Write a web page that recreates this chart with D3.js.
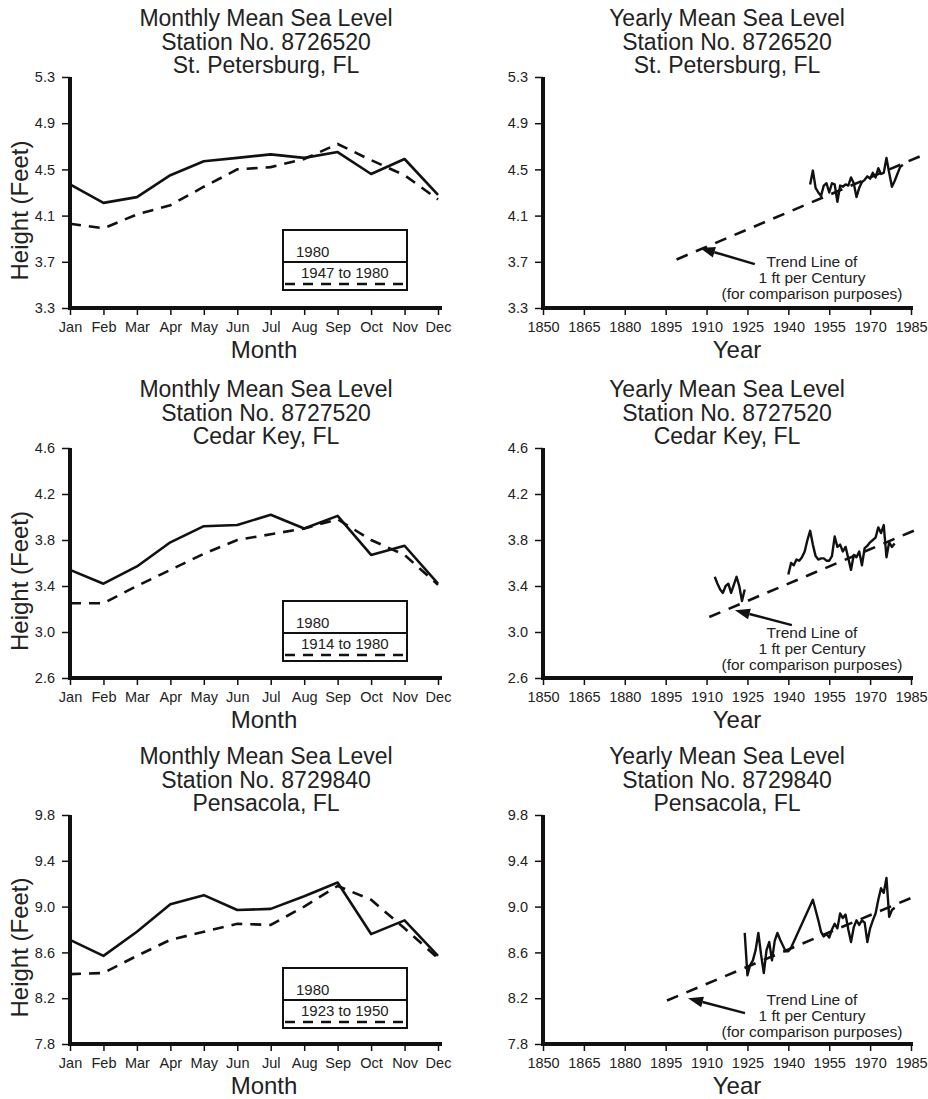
<!DOCTYPE html>
<html>
<head>
<meta charset="utf-8">
<script src="https://cdn.jsdelivr.net/npm/d3@7"></script>
<style>
  html, body { margin: 0; padding: 0; background: #fff; }
  svg { display: block; font-family: "Liberation Sans", Arial, Helvetica, sans-serif; }
</style>
</head>
<body>
<svg id="chart" width="928" height="1099"></svg>
<script>
// ---- Data (heights in feet) ----
const months = ["Jan", "Feb", "Mar", "Apr", "May", "Jun", "Jul", "Aug", "Sep", "Oct", "Nov", "Dec"];
const yearTicks = [1850, 1865, 1880, 1895, 1910, 1925, 1940, 1955, 1970, 1985];

// St. Petersburg, FL — Station No. 8726520
const stPete1980 = [4.37, 4.21, 4.26, 4.45, 4.57, 4.60, 4.63, 4.60, 4.65, 4.46, 4.59, 4.28];
const stPeteMean = [4.03, 3.99, 4.11, 4.19, 4.35, 4.50, 4.52, 4.59, 4.72, 4.58, 4.45, 4.24];
const stPeteTicks = [3.3, 3.7, 4.1, 4.5, 4.9, 5.3];
const stPeteYearlyStart = 1948;
const stPeteYearly = [4.37, 4.49, 4.34, 4.30, 4.27, 4.36, 4.38, 4.30, 4.38, 4.37,
                      4.22, 4.36, 4.35, 4.37, 4.36, 4.43, 4.38, 4.26, 4.34, 4.39,
                      4.41, 4.44, 4.42, 4.47, 4.43, 4.51, 4.46, 4.47, 4.60, 4.47,
                      4.35, 4.40, 4.46, 4.52, 4.54];
const stPeteTrendYears = [1899, 1991];
const stPeteTrendLevel = 3.72;
const stPeteArrow = [[1927.7, 3.68], [1907.6, 3.82]];

// Cedar Key, FL — Station No. 8727520
const cedar1980 = [3.54, 3.42, 3.57, 3.78, 3.92, 3.93, 4.02, 3.90, 4.01, 3.67, 3.75, 3.42];
const cedarMean = [3.25, 3.25, 3.40, 3.54, 3.68, 3.80, 3.85, 3.90, 3.98, 3.80, 3.67, 3.41];
const cedarTicks = [2.6, 3.0, 3.4, 3.8, 4.2, 4.6];
const cedarEarlyStart = 1913;
const cedarEarly = [3.48, 3.42, 3.37, 3.34, 3.40, 3.42, 3.34, 3.41, 3.48, 3.40, 3.27, 3.37];
const cedarLateStart = 1940;
const cedarLate = [3.50, 3.60, 3.58, 3.63, 3.62, 3.65, 3.70, 3.80, 3.88, 3.76,
                   3.66, 3.63, 3.64, 3.64, 3.62, 3.62, 3.66, 3.83, 3.74, 3.76,
                   3.70, 3.74, 3.64, 3.54, 3.67, 3.65, 3.70, 3.58, 3.73, 3.75,
                   3.78, 3.80, 3.82, 3.91, 3.86, 3.93, 3.65, 3.78, 3.74, 3.77];
const cedarTrendYears = [1911, 1988];
const cedarTrendLevel = 3.13;
const cedarArrow = [[1941.3, 3.06], [1920.4, 3.19]];

// Pensacola, FL — Station No. 8729840
const pens1980 = [8.71, 8.57, 8.78, 9.02, 9.10, 8.97, 8.98, 9.09, 9.21, 8.76, 8.88, 8.57];
const pensMean = [8.41, 8.42, 8.57, 8.71, 8.78, 8.85, 8.84, 9.00, 9.18, 9.06, 8.81, 8.55];
const pensTicks = [7.8, 8.2, 8.6, 9.0, 9.4, 9.8];
const pensEarlyStart = 1924;
const pensEarly = [8.77, 8.40, 8.49, 8.53, 8.62, 8.77, 8.58, 8.42, 8.62, 8.69,
                   8.53, 8.70, 8.77, 8.71, 8.66, 8.61, 8.61, 8.64];
const pensLateStart = 1949;
const pensLate = [9.06, 8.97, 8.88, 8.78, 8.74, 8.76, 8.73, 8.80, 8.85, 8.81,
                  8.94, 8.90, 8.93, 8.80, 8.69, 8.82, 8.88, 8.84, 8.88, 8.86,
                  8.69, 8.81, 8.88, 8.94, 9.06, 9.16, 9.12, 9.25, 8.91, 8.97, 8.99];
const pensTrendYears = [1895.5, 1986];
const pensTrendLevel = 8.18;
const pensArrow = [[1924.1, 8.07], [1903.2, 8.20]];

// "1 ft per Century" expressed per year
const trendRate = 1 / 100;

// ---- Build series tables ----
const toPoints = (start, values) => values.map((v, i) => [start + i, v]);

const rows = [
  { station: "8726520", place: "St. Petersburg, FL", top: 77, bottom: 308,
    domain: [3.3, 5.3], ticks: stPeteTicks, recent: stPete1980, mean: stPeteMean,
    meanLabel: "1947 to 1980",
    yearly: [toPoints(stPeteYearlyStart, stPeteYearly)],
    trendYears: stPeteTrendYears, trendLevel: stPeteTrendLevel, arrow: stPeteArrow },
  { station: "8727520", place: "Cedar Key, FL", top: 448, bottom: 678,
    domain: [2.6, 4.6], ticks: cedarTicks, recent: cedar1980, mean: cedarMean,
    meanLabel: "1914 to 1980",
    yearly: [toPoints(cedarEarlyStart, cedarEarly), toPoints(cedarLateStart, cedarLate)],
    trendYears: cedarTrendYears, trendLevel: cedarTrendLevel, arrow: cedarArrow },
  { station: "8729840", place: "Pensacola, FL", top: 815, bottom: 1044,
    domain: [7.8, 9.8], ticks: pensTicks, recent: pens1980, mean: pensMean,
    meanLabel: "1923 to 1950",
    yearly: [toPoints(pensEarlyStart, pensEarly).concat(toPoints(pensLateStart, pensLate))],
    trendYears: pensTrendYears, trendLevel: pensTrendLevel, arrow: pensArrow }
];

// ---- Drawing ----
const svg = d3.select("#chart");
svg.append("rect").attr("width", 928).attr("height", 1099).attr("fill", "#fff");

const INK = "#111";
const TEXT = "#222";
const fmt = d3.format(".1f");
const leftRange = [70, 438];
const rightRange = [543, 911];

function titleBlock(g, cx, top, first, station, place) {
  const t = g.append("text").attr("text-anchor", "middle")
    .attr("font-size", 23).attr("fill", TEXT);
  [first, "Station No. " + station, place].forEach((s, i) => {
    t.append("tspan").attr("x", cx).attr("y", top - 51 + i * 23.5).text(s);
  });
}

function yAxis(g, y, ticks, x0) {
  const ax = d3.axisLeft(y).tickValues(ticks).tickFormat(fmt).tickSize(8).tickPadding(7);
  const a = g.append("g").attr("transform", `translate(${x0},0)`).call(ax);
  a.select(".domain").remove();
  a.selectAll(".tick line").attr("stroke", INK).attr("stroke-width", 1.5);
  a.selectAll(".tick text").attr("font-size", 14.5).attr("fill", TEXT)
    .attr("font-family", "'Liberation Sans', Arial, sans-serif");
}

function xAxis(g, axis, y0) {
  const a = g.append("g").attr("transform", `translate(0,${y0})`).call(axis);
  a.select(".domain").remove();
  a.selectAll(".tick line").attr("stroke", INK).attr("stroke-width", 1.5);
  a.selectAll(".tick text").attr("font-size", 14.5).attr("fill", TEXT)
    .attr("font-family", "'Liberation Sans', Arial, sans-serif");
}

function frame(g, xr, top, bottom) {
  g.append("line").attr("x1", xr[0]).attr("x2", xr[0]).attr("y1", top).attr("y2", bottom + 2)
    .attr("stroke", INK).attr("stroke-width", 4);
  g.append("line").attr("x1", xr[0] - 2).attr("x2", xr[1] + 2).attr("y1", bottom).attr("y2", bottom)
    .attr("stroke", INK).attr("stroke-width", 4);
}

rows.forEach(r => {
  // ---------- Monthly panel ----------
  const gl = svg.append("g");
  const xm = d3.scalePoint().domain(months).range(leftRange);
  const y = d3.scaleLinear().domain(r.domain).range([r.bottom, r.top]);

  titleBlock(gl, 266, r.top, "Monthly Mean Sea Level", r.station, r.place);
  yAxis(gl, y, r.ticks, leftRange[0]);
  xAxis(gl, d3.axisBottom(xm).tickSize(7).tickPadding(7), r.bottom);
  frame(gl, [leftRange[0], leftRange[1] + 2], r.top, r.bottom);

  const lineM = d3.line().x((d, i) => xm(months[i])).y(d => y(d));
  gl.append("path").attr("d", lineM(r.mean)).attr("fill", "none")
    .attr("stroke", INK).attr("stroke-width", 2.6).attr("stroke-dasharray", "11,8");
  gl.append("path").attr("d", lineM(r.recent)).attr("fill", "none")
    .attr("stroke", INK).attr("stroke-width", 2.6).attr("stroke-linejoin", "round");

  // legend
  const lx = 283, lw = 124, ly = r.top + 153, lh = 60;
  const lg = gl.append("g");
  lg.append("rect").attr("x", lx).attr("y", ly).attr("width", lw).attr("height", lh)
    .attr("fill", "#fff").attr("stroke", INK).attr("stroke-width", 2);
  lg.append("line").attr("x1", lx).attr("x2", lx + lw).attr("y1", ly + 32).attr("y2", ly + 32)
    .attr("stroke", INK).attr("stroke-width", 2.2);
  lg.append("line").attr("x1", lx + 2).attr("x2", lx + lw - 2).attr("y1", ly + 54).attr("y2", ly + 54)
    .attr("stroke", INK).attr("stroke-width", 2.6).attr("stroke-dasharray", "10,8");
  lg.append("text").attr("x", lx + 13).attr("y", ly + 27).attr("font-size", 15)
    .attr("fill", TEXT).text("1980");
  lg.append("text").attr("x", lx + 18).attr("y", ly + 48).attr("font-size", 15)
    .attr("fill", TEXT).text(r.meanLabel);

  gl.append("text").attr("x", 264).attr("y", r.bottom + 50).attr("text-anchor", "middle")
    .attr("font-size", 24).attr("fill", TEXT).text("Month");
  gl.append("text")
    .attr("transform", `translate(28,${(r.top + r.bottom) / 2 + 18}) rotate(-90)`)
    .attr("text-anchor", "middle").attr("font-size", 24).attr("fill", TEXT).text("Height (Feet)");

  // ---------- Yearly panel ----------
  const gr = svg.append("g");
  const xy = d3.scaleLinear().domain([1850, 1985]).range(rightRange);

  titleBlock(gr, 727, r.top, "Yearly Mean Sea Level", r.station, r.place);
  yAxis(gr, y, r.ticks, rightRange[0]);
  xAxis(gr, d3.axisBottom(xy).tickValues(yearTicks).tickFormat(d3.format("d"))
    .tickSize(7).tickPadding(7), r.bottom);
  frame(gr, rightRange, r.top, r.bottom);

  // trend line of 1 ft per century
  const t0 = r.trendYears[0], t1 = r.trendYears[1];
  const trend = [[t0, r.trendLevel], [t1, r.trendLevel + trendRate * (t1 - t0)]];
  const lineY = d3.line().x(d => xy(d[0])).y(d => y(d[1]));
  gr.append("path").attr("d", lineY(trend)).attr("fill", "none")
    .attr("stroke", INK).attr("stroke-width", 2.6).attr("stroke-dasharray", "12,9");

  r.yearly.forEach(seg => {
    gr.append("path").attr("d", lineY(seg)).attr("fill", "none")
      .attr("stroke", INK).attr("stroke-width", 2.4).attr("stroke-linejoin", "round");
  });

  // annotation arrow
  const [tail, tip] = r.arrow;
  const ax0 = xy(tail[0]), ay0 = y(tail[1]), ax1 = xy(tip[0]), ay1 = y(tip[1]);
  const ang = Math.atan2(ay1 - ay0, ax1 - ax0);
  const hl = 15, hw = 5.5;
  const bx = ax1 - hl * Math.cos(ang), by = ay1 - hl * Math.sin(ang);
  gr.append("line").attr("x1", ax0).attr("y1", ay0).attr("x2", bx).attr("y2", by)
    .attr("stroke", INK).attr("stroke-width", 2.5);
  gr.append("path")
    .attr("d", `M${ax1},${ay1}L${bx + hw * Math.sin(ang)},${by - hw * Math.cos(ang)}` +
               `L${bx - hw * Math.sin(ang)},${by + hw * Math.cos(ang)}Z`)
    .attr("fill", INK);

  const note = gr.append("text").attr("text-anchor", "middle").attr("font-size", 15.5).attr("fill", TEXT);
  ["Trend Line of", "1 ft per Century", "(for comparison purposes)"].forEach((s, i) => {
    note.append("tspan").attr("x", 812).attr("y", r.top + 190 + i * 15.8).text(s);
  });

  gr.append("text").attr("x", 737).attr("y", r.bottom + 50).attr("text-anchor", "middle")
    .attr("font-size", 24).attr("fill", TEXT).text("Year");
});
</script>
</body>
</html>
